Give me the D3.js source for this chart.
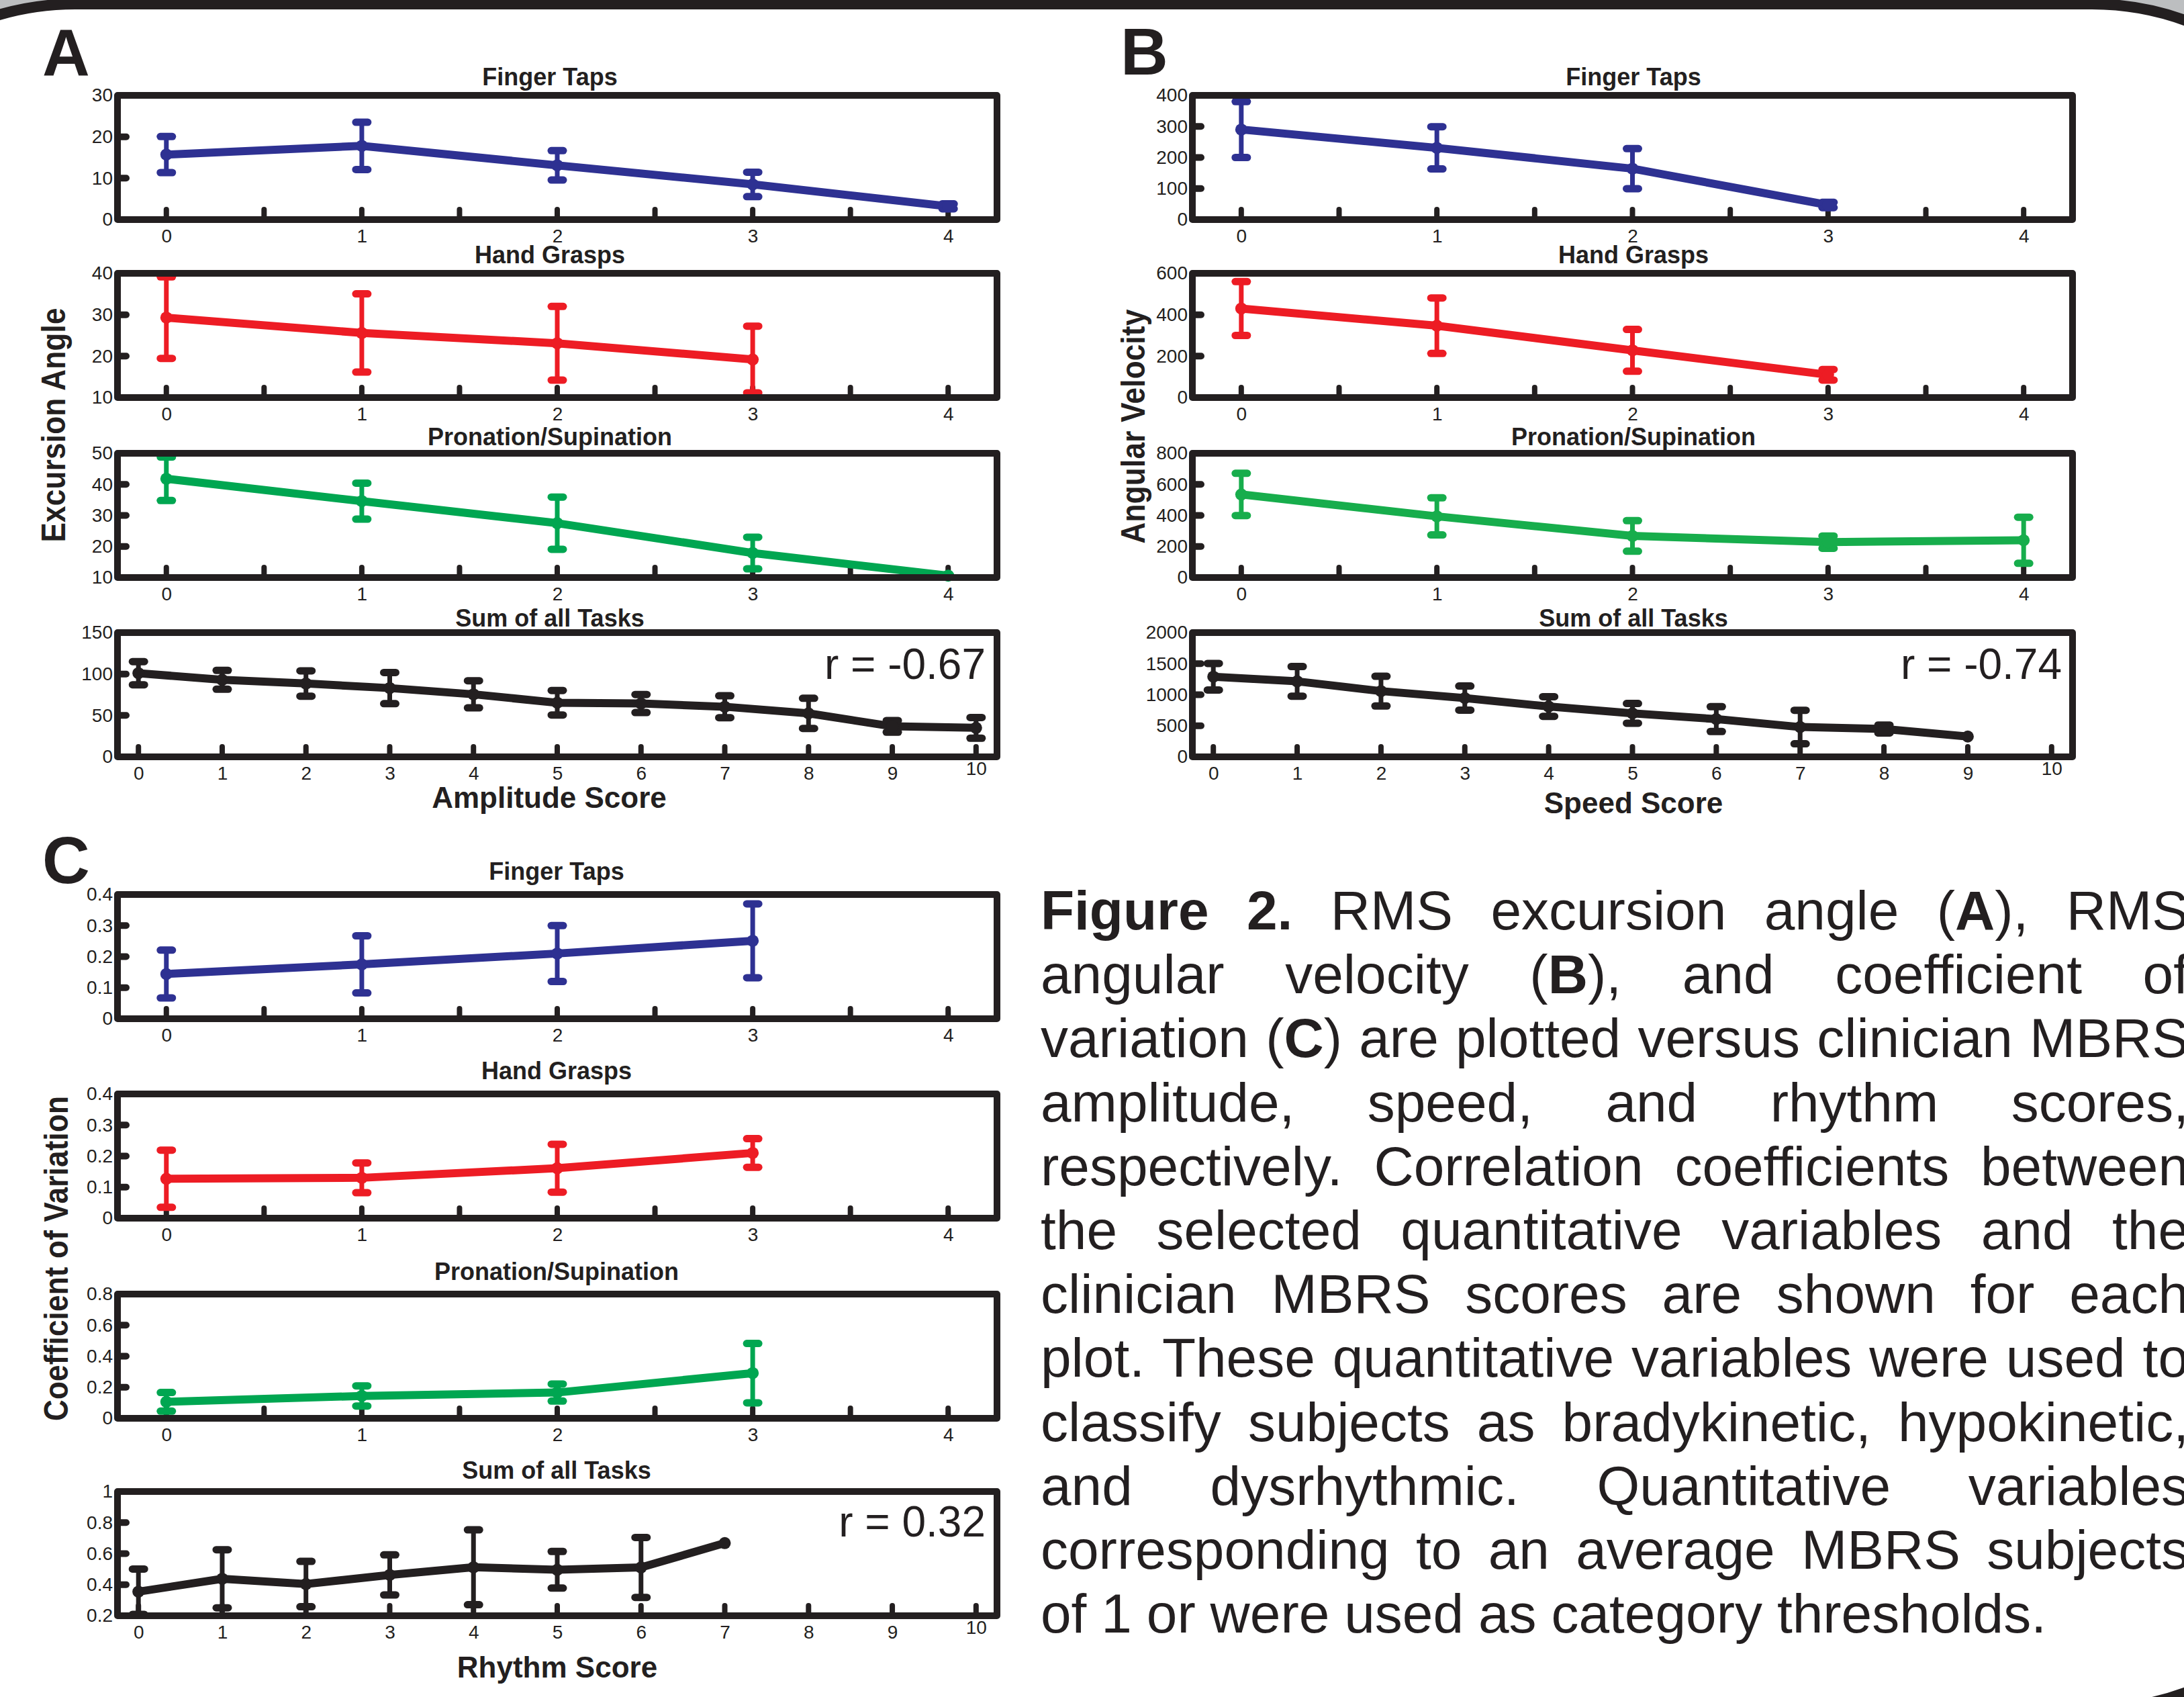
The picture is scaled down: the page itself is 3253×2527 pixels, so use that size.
<!DOCTYPE html>
<html>
<head>
<meta charset="utf-8">
<script src="https://cdn.jsdelivr.net/npm/d3@7"></script>
<style>
  body { margin: 0; background: #bcbec0; }
  svg { display: block; }
  text { font-family: "Liberation Sans", Arial, Helvetica, sans-serif; fill: #231f20; }
</style>
</head>
<body>
<script>
const W = 3253;
const H = 2527;

// ---- categories / tick labels ----
const taskTitles = ["Finger Taps", "Hand Grasps", "Pronation/Supination", "Sum of all Tasks"];
const scoreLabels = ["Amplitude Score", "Speed Score", "Rhythm Score"];
const measureLabels = ["Excursion Angle", "Angular Velocity", "Coefficient of Variation"];
const panelLetters = ["A", "B", "C"];
const rValues = ["r = -0.67", "r = -0.74", "r = 0.32"];

const ticksAmpFinger = [0, 10, 20, 30];
const ticksAmpGrasp = [10, 20, 30, 40];
const ticksAmpProSup = [10, 20, 30, 40, 50];
const ticksAmpSum = [0, 50, 100, 150];
const ticksSpdFinger = [0, 100, 200, 300, 400];
const ticksSpdGrasp = [0, 200, 400, 600];
const ticksSpdProSup = [0, 200, 400, 600, 800];
const ticksSpdSum = [0, 500, 1000, 1500, 2000];
const ticksRhyFinger = [0, 0.1, 0.2, 0.3, 0.4];
const ticksRhyGrasp = [0, 0.1, 0.2, 0.3, 0.4];
const ticksRhyProSup = [0, 0.2, 0.4, 0.6, 0.8];
const ticksRhySum = [0.2, 0.4, 0.6, 0.8, 1];

// ---- A: RMS excursion angle vs amplitude score (mean, error half-width) ----
const ampFingerMean = [15.7, 17.8, 13.1, 8.5, 3.2];
const ampFingerErr = [4.35, 5.7, 3.55, 2.95, 0.6];
const ampGraspMean = [29.3, 25.6, 23.1, 19.2];
const ampGraspErr = [9.85, 9.45, 8.9, 8.05];
const ampProSupMean = [41.8, 34.6, 27.5, 17.9, 10.6];
const ampProSupErr = [7.0, 5.8, 8.4, 5.1, 0];
const ampSumMean = [101, 93, 88.5, 83, 75.5, 65.3, 64.4, 60.5, 52.5, 36.8, 35];
const ampSumErr = [14, 11.4, 15.3, 18.8, 16.4, 14.8, 10.9, 13.2, 18.2, 7, 12.5];

// ---- B: RMS angular velocity vs speed score ----
const spdFingerMean = [290, 231, 164, 47];
const spdFingerErr = [90, 68, 64.5, 8.5];
const spdGraspMean = [430, 347, 228, 110];
const spdGraspErr = [130, 134, 101, 25.5];
const spdProSupMean = [535, 394, 268, 228, 240];
const spdProSupErr = [136, 119.5, 98.5, 39.5, 148.5];
const spdSumMean = [1290, 1215, 1058, 946, 810, 700, 608, 480, 448, 327];
const spdSumErr = [214, 239, 239, 194, 158, 159, 200, 270, 63, 0];

// ---- C: coefficient of variation vs rhythm score ----
const rhyFingerMean = [0.144, 0.175, 0.210, 0.251];
const rhyFingerErr = [0.077, 0.092, 0.090, 0.119];
const rhyGraspMean = [0.127, 0.130, 0.161, 0.210];
const rhyGraspErr = [0.092, 0.048, 0.077, 0.046];
const rhyProSupMean = [0.106, 0.144, 0.166, 0.291];
const rhyProSupErr = [0.060, 0.065, 0.055, 0.191];
const rhySumMean = [0.355, 0.438, 0.404, 0.463, 0.512, 0.496, 0.511, 0.668];
const rhySumErr = [0.146, 0.187, 0.146, 0.129, 0.241, 0.118, 0.193, 0];

const captionLines = [
  "*Figure 2.* RMS excursion angle (*A*), RMS",
  "angular velocity (*B*), and coefficient of",
  "variation (*C*) are plotted versus clinician MBRS",
  "amplitude, speed, and rhythm scores,",
  "respectively. Correlation coefficients between",
  "the selected quantitative variables and the",
  "clinician MBRS scores are shown for each",
  "plot. These quantitative variables were used to",
  "classify subjects as bradykinetic, hypokinetic,",
  "and dysrhythmic. Quantitative variables",
  "corresponding to an average MBRS subjects",
  "of 1 or were used as category thresholds."
];

const INK = "#231f20";

var svg = d3.select("body").append("svg")
  .attr("width", W)
  .attr("height", H);

// poster panel with rounded black border (left-bottom corner lies off the page)
const border = d3.path();
border.moveTo(-296, 414);
border.arcTo(-296, 6, 112, 6, 408);
border.lineTo(3116, 6);
border.arcTo(3524, 6, 3524, 414, 408);
border.lineTo(3524, 2137);
border.arcTo(3524, 2545, 3116, 2545, 408);
border.lineTo(-296, 2545);
border.closePath();

svg.append("path")
  .attr("d", border.toString())
  .attr("fill", "white")
  .attr("stroke", INK)
  .attr("stroke-width", 16);

// panel layout (pixel positions)
const panels = [
  { left: 170, right: 1490, tops: [137, 402, 670, 937], titleBase: [127, 392, 663, 933],
    titleX: 819, xlabX: 818, xlabBase: 1203, tickGap: 29, rRight: 1468, rBase: 1011,
    ylab: { x: 97, cy: 633, len: 349 }, letter: { x: 63, base: 112 },
    colors: ["#2e3192", "#ed1c24", "#00a651", INK] },
  { left: 1771, right: 3092, tops: [137, 402, 670, 937], titleBase: [127, 392, 663, 933],
    titleX: 2433, xlabX: 2433, xlabBase: 1211, tickGap: 29, rRight: 3071, rBase: 1011,
    ylab: { x: 1705, cy: 635, len: 349 }, letter: { x: 1669, base: 111 },
    colors: ["#2e3192", "#ed1c24", "#17ad4c", INK] },
  { left: 170, right: 1490, tops: [1327, 1624, 1922, 2216], titleBase: [1310, 1607, 1906, 2202],
    titleX: 829, xlabX: 830, xlabBase: 2498, tickGap: 29, rRight: 1468, rBase: 2288,
    ylab: { x: 101, cy: 1874, len: 484 }, letter: { x: 63, base: 1315 },
    colors: ["#2e3192", "#ed1c24", "#00a651", INK] }
];

const plots = [
  [ { mean: ampFingerMean, err: ampFingerErr, ticks: ticksAmpFinger, xMax: 4 },
    { mean: ampGraspMean, err: ampGraspErr, ticks: ticksAmpGrasp, xMax: 4 },
    { mean: ampProSupMean, err: ampProSupErr, ticks: ticksAmpProSup, xMax: 4 },
    { mean: ampSumMean, err: ampSumErr, ticks: ticksAmpSum, xMax: 10 } ],
  [ { mean: spdFingerMean, err: spdFingerErr, ticks: ticksSpdFinger, xMax: 4 },
    { mean: spdGraspMean, err: spdGraspErr, ticks: ticksSpdGrasp, xMax: 4 },
    { mean: spdProSupMean, err: spdProSupErr, ticks: ticksSpdProSup, xMax: 4 },
    { mean: spdSumMean, err: spdSumErr, ticks: ticksSpdSum, xMax: 10 } ],
  [ { mean: rhyFingerMean, err: rhyFingerErr, ticks: ticksRhyFinger, xMax: 4 },
    { mean: rhyGraspMean, err: rhyGraspErr, ticks: ticksRhyGrasp, xMax: 4 },
    { mean: rhyProSupMean, err: rhyProSupErr, ticks: ticksRhyProSup, xMax: 4 },
    { mean: rhySumMean, err: rhySumErr, ticks: ticksRhySum, xMax: 10 } ]
];

const FRAME_H = 195;

/**
 * one small axes box with a mean +- error line
 */
function drawPlot(p, row, cfg, color, rText)
{
  const top = p.tops[row];
  const bot = top + FRAME_H;
  const x = d3.scaleLinear().domain([-0.25, cfg.xMax + 0.25]).range([p.left + 5, p.right - 5]);
  const y = d3.scaleLinear().domain(d3.extent(cfg.ticks)).range([bot - 5, top + 5]);
  const g = svg.append("g");

  g.append("text")
    .attr("x", p.titleX).attr("y", p.titleBase[row])
    .attr("text-anchor", "middle")
    .attr("font-weight", "bold")
    .attr("font-size", 36)
    .text(taskTitles[row]);

  // x tick marks (inside, from the bottom)
  const minor = cfg.xMax === 4 ? d3.range(0, 4.01, 0.5) : d3.range(0, 11, 1);
  g.selectAll("line.xt").data(minor).join("line")
    .attr("x1", d => x(d)).attr("x2", d => x(d))
    .attr("y1", bot - 8).attr("y2", bot - 20)
    .attr("stroke", INK).attr("stroke-width", 8).attr("stroke-linecap", "round");

  // y tick marks (inside, from the left)
  const yd = y.domain();
  g.selectAll("line.yt").data(cfg.ticks.filter(t => t > yd[0] && t < yd[1])).join("line")
    .attr("x1", p.left + 8).attr("x2", p.left + 18)
    .attr("y1", d => y(d)).attr("y2", d => y(d))
    .attr("stroke", INK).attr("stroke-width", 10).attr("stroke-linecap", "round");

  // tick labels
  const xl = cfg.xMax === 4 ? d3.range(0, 5) : d3.range(0, 11);
  g.append("g")
    .attr("transform", "translate(0," + bot + ")")
    .call(d3.axisBottom(x).tickValues(xl).tickSize(0).tickPadding(p.tickGap - 20).tickFormat(d => String(d)))
    .attr("font-size", 28).attr("font-family", null)
    .call(a => a.select(".domain").remove())
    .call(a => a.selectAll("text").filter(d => d === 10).attr("y", p.tickGap - 27));

  g.append("g")
    .attr("transform", "translate(" + (p.left - 2) + ",0)")
    .call(d3.axisLeft(y).tickValues(cfg.ticks).tickSize(0).tickPadding(0).tickFormat(d => String(d)))
    .attr("font-size", 28).attr("font-family", null)
    .call(a => a.select(".domain").remove());

  // data
  const pts = cfg.mean.map((m, i) => ({ i: i, m: m, e: cfg.err[i] }));

  const line = d3.line()
    .x(d => x(d.i))
    .y(d => y(d.m));

  g.append("path")
    .datum(pts)
    .attr("d", line)
    .attr("fill", "none")
    .attr("stroke", color)
    .attr("stroke-width", 12)
    .attr("stroke-linejoin", "round")
    .attr("stroke-linecap", "round");

  const bars = g.selectAll("g.bar").data(pts.filter(d => d.e > 0)).join("g");
  bars.append("line")
    .attr("x1", d => x(d.i)).attr("x2", d => x(d.i))
    .attr("y1", d => y(d.m - d.e)).attr("y2", d => y(d.m + d.e))
    .attr("stroke", color).attr("stroke-width", 7);
  [-1, 1].forEach(s => {
    bars.append("line")
      .attr("x1", d => x(d.i) - 9).attr("x2", d => x(d.i) + 9)
      .attr("y1", d => y(d.m + s * d.e)).attr("y2", d => y(d.m + s * d.e))
      .attr("stroke", color).attr("stroke-width", 11).attr("stroke-linecap", "round");
  });

  g.selectAll("circle").data(pts).join("circle")
    .attr("cx", d => x(d.i)).attr("cy", d => y(d.m))
    .attr("r", 9).attr("fill", color);

  // axes box
  g.append("rect")
    .attr("x", p.left + 5).attr("y", top + 5)
    .attr("width", p.right - p.left - 10).attr("height", FRAME_H - 10)
    .attr("fill", "none").attr("stroke", INK)
    .attr("stroke-width", 10).attr("stroke-linejoin", "round");

  if (rText)
  {
    g.append("text")
      .attr("x", p.rRight).attr("y", p.rBase)
      .attr("text-anchor", "end")
      .attr("font-size", 64)
      .text(rText);
  }
}

panels.forEach((p, k) => {
  plots[k].forEach((cfg, row) => drawPlot(p, row, cfg, p.colors[row], row === 3 ? rValues[k] : null));

  svg.append("text")
    .attr("x", p.letter.x).attr("y", p.letter.base)
    .attr("font-weight", "bold").attr("font-size", 98)
    .text(panelLetters[k]);

  svg.append("text")
    .attr("x", p.xlabX).attr("y", p.xlabBase)
    .attr("text-anchor", "middle")
    .attr("font-weight", "bold").attr("font-size", 44)
    .text(scoreLabels[k]);

  const sq = 0.88;
  svg.append("text")
    .attr("transform", "translate(" + p.ylab.x + "," + p.ylab.cy + ") rotate(-90) scale(" + sq + ",1)")
    .attr("text-anchor", "middle")
    .attr("font-weight", "bold").attr("font-size", 50)
    .attr("textLength", p.ylab.len / sq).attr("lengthAdjust", "spacing")
    .text(measureLabels[k]);
});

// caption: justified lines, words placed one by one
const capX = 1550, capRight = 3260, capLastRight = 3048, capBase = 1384, capStep = 95.2, capSize = 82;
captionLines.forEach((line, li) => {
  let bold = false;
  const words = line.split(" ").map(w => {
    const segs = [];
    let cur = "";
    for (const ch of w)
    {
      if (ch === "*") { if (cur) segs.push({ t: cur, b: bold }); cur = ""; bold = !bold; }
      else cur += ch;
    }
    if (cur) segs.push({ t: cur, b: bold });
    return segs;
  });
  const g = svg.append("g");
  const nodes = words.map(segs => {
    const t = g.append("text").attr("font-size", capSize);
    segs.forEach(s => t.append("tspan").attr("font-weight", s.b ? "bold" : "normal").text(s.t));
    return t;
  });
  const widths = nodes.map(n => n.node().getComputedTextLength());
  const total = d3.sum(widths);
  const target = (li === captionLines.length - 1 ? capLastRight : capRight) - capX;
  let gap = (target - total) / (words.length - 1);
  let k = 1;
  if (gap < 10) { gap = 10; k = (target - 10 * (words.length - 1)) / total; }
  let xx = capX;
  nodes.forEach((n, i) => {
    n.attr("transform", "translate(" + xx + "," + (capBase + li * capStep) + ") scale(" + k + ",1)");
    xx += widths[i] * k + gap;
  });
});
</script>
</body>
</html>
